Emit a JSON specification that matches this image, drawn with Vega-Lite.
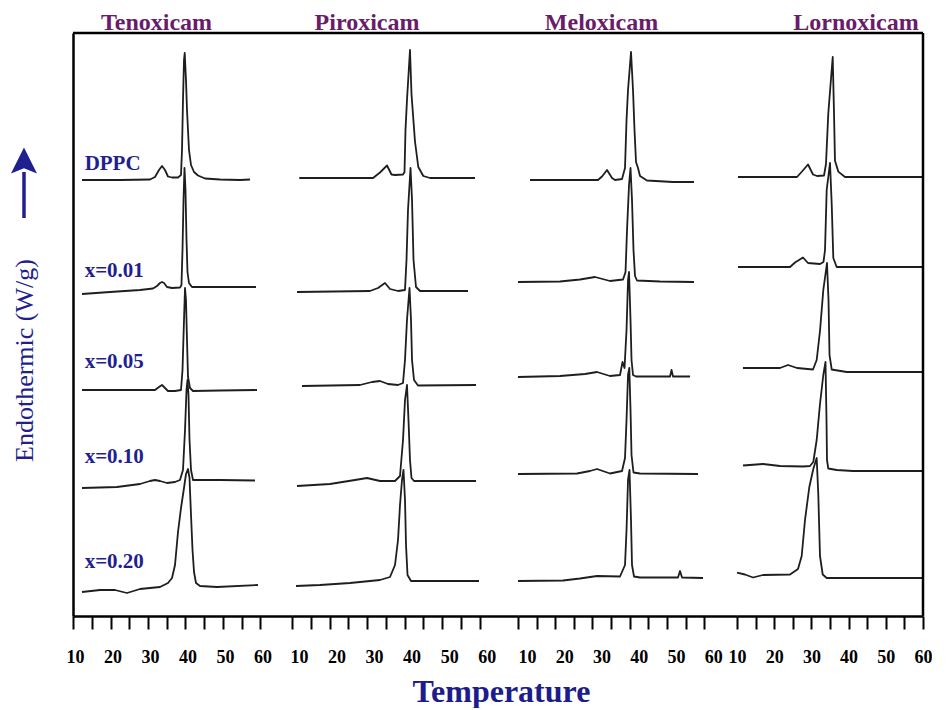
{
  "$schema": "https://vega.github.io/schema/vega-lite/v6.json",
  "background": "white",
  "padding": {"left": 10, "top": 10, "right": 0, "bottom": 0},
  "config": {
    "view": {"stroke": null},
    "font": "Liberation Serif",
    "axisX": {"grid": false, "domain": true, "domainColor": "black", "domainWidth": 2.5, "ticks": true, "tickSize": 13, "tickWidth": 2, "tickColor": "black", "labelFont": "Liberation Serif", "labelFontWeight": "bold", "labelFontSize": 18, "labelColor": "black", "labelPadding": 19, "labelFlush": false, "labelOverlap": false}
  },
  "title": {"text": "Temperature", "orient": "bottom", "anchor": "middle", "font": "Liberation Serif", "fontSize": 32, "fontWeight": "bold", "color": "#1c1c8c", "offset": 11, "dx": 30},
  "spacing": 0,
  "bounds": "flush",
  "datasets": {
    "labels": [
      {"sample": "DPPC", "t": 13.1, "hf": 44.6},
      {"sample": "x=0.01", "t": 13.1, "hf": 33.93},
      {"sample": "x=0.05", "t": 13.1, "hf": 24.8},
      {"sample": "x=0.10", "t": 13.1, "hf": 15.3},
      {"sample": "x=0.20", "t": 13.1, "hf": 4.8}
    ],
    "dsc": [
      {"drug":"Tenoxicam","sample":"DPPC","t":12.4,"hf":43.6},
      {"drug":"Tenoxicam","sample":"DPPC","t":22.53,"hf":43.6},
      {"drug":"Tenoxicam","sample":"DPPC","t":30.53,"hf":43.65},
      {"drug":"Tenoxicam","sample":"DPPC","t":31.87,"hf":43.9},
      {"drug":"Tenoxicam","sample":"DPPC","t":32.93,"hf":44.6},
      {"drug":"Tenoxicam","sample":"DPPC","t":33.73,"hf":45.0},
      {"drug":"Tenoxicam","sample":"DPPC","t":34.53,"hf":44.6},
      {"drug":"Tenoxicam","sample":"DPPC","t":35.33,"hf":43.95},
      {"drug":"Tenoxicam","sample":"DPPC","t":36.4,"hf":43.85},
      {"drug":"Tenoxicam","sample":"DPPC","t":38.0,"hf":43.85},
      {"drug":"Tenoxicam","sample":"DPPC","t":38.8,"hf":44.1},
      {"drug":"Tenoxicam","sample":"DPPC","t":39.07,"hf":46.6},
      {"drug":"Tenoxicam","sample":"DPPC","t":39.33,"hf":51.6},
      {"drug":"Tenoxicam","sample":"DPPC","t":39.6,"hf":55.6},
      {"drug":"Tenoxicam","sample":"DPPC","t":39.79,"hf":56.3},
      {"drug":"Tenoxicam","sample":"DPPC","t":40.13,"hf":53.6},
      {"drug":"Tenoxicam","sample":"DPPC","t":40.4,"hf":50.6},
      {"drug":"Tenoxicam","sample":"DPPC","t":40.93,"hf":46.6},
      {"drug":"Tenoxicam","sample":"DPPC","t":41.47,"hf":45.1},
      {"drug":"Tenoxicam","sample":"DPPC","t":42.27,"hf":44.4},
      {"drug":"Tenoxicam","sample":"DPPC","t":43.33,"hf":44.05},
      {"drug":"Tenoxicam","sample":"DPPC","t":45.2,"hf":43.75},
      {"drug":"Tenoxicam","sample":"DPPC","t":49.2,"hf":43.65},
      {"drug":"Tenoxicam","sample":"DPPC","t":54.53,"hf":43.6},
      {"drug":"Tenoxicam","sample":"DPPC","t":57.2,"hf":43.65},

      {"drug":"Tenoxicam","sample":"x=0.01","t":12.4,"hf":32.2},
      {"drug":"Tenoxicam","sample":"x=0.01","t":19.87,"hf":32.4},
      {"drug":"Tenoxicam","sample":"x=0.01","t":27.87,"hf":32.6},
      {"drug":"Tenoxicam","sample":"x=0.01","t":31.33,"hf":32.75},
      {"drug":"Tenoxicam","sample":"x=0.01","t":32.4,"hf":33.0},
      {"drug":"Tenoxicam","sample":"x=0.01","t":33.2,"hf":33.3},
      {"drug":"Tenoxicam","sample":"x=0.01","t":33.73,"hf":33.4},
      {"drug":"Tenoxicam","sample":"x=0.01","t":34.27,"hf":33.3},
      {"drug":"Tenoxicam","sample":"x=0.01","t":35.07,"hf":32.9},
      {"drug":"Tenoxicam","sample":"x=0.01","t":36.4,"hf":32.8},
      {"drug":"Tenoxicam","sample":"x=0.01","t":38.53,"hf":32.85},
      {"drug":"Tenoxicam","sample":"x=0.01","t":38.93,"hf":33.1},
      {"drug":"Tenoxicam","sample":"x=0.01","t":39.2,"hf":36.6},
      {"drug":"Tenoxicam","sample":"x=0.01","t":39.47,"hf":41.6},
      {"drug":"Tenoxicam","sample":"x=0.01","t":39.73,"hf":44.8},
      {"drug":"Tenoxicam","sample":"x=0.01","t":40.0,"hf":42.6},
      {"drug":"Tenoxicam","sample":"x=0.01","t":40.27,"hf":37.6},
      {"drug":"Tenoxicam","sample":"x=0.01","t":40.53,"hf":34.4},
      {"drug":"Tenoxicam","sample":"x=0.01","t":40.93,"hf":33.3},
      {"drug":"Tenoxicam","sample":"x=0.01","t":41.73,"hf":32.9},
      {"drug":"Tenoxicam","sample":"x=0.01","t":46.53,"hf":32.9},
      {"drug":"Tenoxicam","sample":"x=0.01","t":58.8,"hf":32.9},

      {"drug":"Tenoxicam","sample":"x=0.05","t":12.4,"hf":22.6},
      {"drug":"Tenoxicam","sample":"x=0.05","t":22.53,"hf":22.6},
      {"drug":"Tenoxicam","sample":"x=0.05","t":31.87,"hf":22.6},
      {"drug":"Tenoxicam","sample":"x=0.05","t":32.93,"hf":22.9},
      {"drug":"Tenoxicam","sample":"x=0.05","t":33.73,"hf":23.1},
      {"drug":"Tenoxicam","sample":"x=0.05","t":34.53,"hf":22.8},
      {"drug":"Tenoxicam","sample":"x=0.05","t":35.33,"hf":22.5},
      {"drug":"Tenoxicam","sample":"x=0.05","t":37.2,"hf":22.5},
      {"drug":"Tenoxicam","sample":"x=0.05","t":38.8,"hf":22.6},
      {"drug":"Tenoxicam","sample":"x=0.05","t":39.2,"hf":24.6},
      {"drug":"Tenoxicam","sample":"x=0.05","t":39.6,"hf":29.6},
      {"drug":"Tenoxicam","sample":"x=0.05","t":39.87,"hf":32.8},
      {"drug":"Tenoxicam","sample":"x=0.05","t":40.13,"hf":31.6},
      {"drug":"Tenoxicam","sample":"x=0.05","t":40.4,"hf":27.6},
      {"drug":"Tenoxicam","sample":"x=0.05","t":40.67,"hf":23.9},
      {"drug":"Tenoxicam","sample":"x=0.05","t":41.2,"hf":22.8},
      {"drug":"Tenoxicam","sample":"x=0.05","t":42.0,"hf":22.5},
      {"drug":"Tenoxicam","sample":"x=0.05","t":49.2,"hf":22.55},
      {"drug":"Tenoxicam","sample":"x=0.05","t":59.07,"hf":22.6},

      {"drug":"Tenoxicam","sample":"x=0.10","t":12.4,"hf":12.8},
      {"drug":"Tenoxicam","sample":"x=0.10","t":21.73,"hf":12.9},
      {"drug":"Tenoxicam","sample":"x=0.10","t":27.87,"hf":13.2},
      {"drug":"Tenoxicam","sample":"x=0.10","t":30.53,"hf":13.5},
      {"drug":"Tenoxicam","sample":"x=0.10","t":31.87,"hf":13.6},
      {"drug":"Tenoxicam","sample":"x=0.10","t":33.2,"hf":13.5},
      {"drug":"Tenoxicam","sample":"x=0.10","t":35.07,"hf":13.3},
      {"drug":"Tenoxicam","sample":"x=0.10","t":37.2,"hf":13.4},
      {"drug":"Tenoxicam","sample":"x=0.10","t":38.53,"hf":13.6},
      {"drug":"Tenoxicam","sample":"x=0.10","t":39.33,"hf":14.6},
      {"drug":"Tenoxicam","sample":"x=0.10","t":39.87,"hf":18.6},
      {"drug":"Tenoxicam","sample":"x=0.10","t":40.27,"hf":22.6},
      {"drug":"Tenoxicam","sample":"x=0.10","t":40.53,"hf":23.6},
      {"drug":"Tenoxicam","sample":"x=0.10","t":40.8,"hf":22.1},
      {"drug":"Tenoxicam","sample":"x=0.10","t":41.07,"hf":17.6},
      {"drug":"Tenoxicam","sample":"x=0.10","t":41.47,"hf":14.6},
      {"drug":"Tenoxicam","sample":"x=0.10","t":42.0,"hf":13.6},
      {"drug":"Tenoxicam","sample":"x=0.10","t":49.2,"hf":13.6},
      {"drug":"Tenoxicam","sample":"x=0.10","t":58.53,"hf":13.55},

      {"drug":"Tenoxicam","sample":"x=0.20","t":12.4,"hf":2.4},
      {"drug":"Tenoxicam","sample":"x=0.20","t":17.2,"hf":2.6},
      {"drug":"Tenoxicam","sample":"x=0.20","t":21.2,"hf":2.6},
      {"drug":"Tenoxicam","sample":"x=0.20","t":24.4,"hf":2.3},
      {"drug":"Tenoxicam","sample":"x=0.20","t":27.87,"hf":2.7},
      {"drug":"Tenoxicam","sample":"x=0.20","t":33.2,"hf":2.9},
      {"drug":"Tenoxicam","sample":"x=0.20","t":35.33,"hf":3.3},
      {"drug":"Tenoxicam","sample":"x=0.20","t":36.4,"hf":3.8},
      {"drug":"Tenoxicam","sample":"x=0.20","t":37.2,"hf":5.1},
      {"drug":"Tenoxicam","sample":"x=0.20","t":38.0,"hf":8.4},
      {"drug":"Tenoxicam","sample":"x=0.20","t":38.8,"hf":10.8},
      {"drug":"Tenoxicam","sample":"x=0.20","t":39.6,"hf":12.8},
      {"drug":"Tenoxicam","sample":"x=0.20","t":40.13,"hf":14.2},
      {"drug":"Tenoxicam","sample":"x=0.20","t":40.67,"hf":14.7},
      {"drug":"Tenoxicam","sample":"x=0.20","t":41.07,"hf":13.8},
      {"drug":"Tenoxicam","sample":"x=0.20","t":41.47,"hf":10.1},
      {"drug":"Tenoxicam","sample":"x=0.20","t":41.87,"hf":6.6},
      {"drug":"Tenoxicam","sample":"x=0.20","t":42.27,"hf":4.4},
      {"drug":"Tenoxicam","sample":"x=0.20","t":42.8,"hf":3.3},
      {"drug":"Tenoxicam","sample":"x=0.20","t":43.87,"hf":3.0},
      {"drug":"Tenoxicam","sample":"x=0.20","t":48.4,"hf":2.9},
      {"drug":"Tenoxicam","sample":"x=0.20","t":59.33,"hf":3.1},

      {"drug":"Piroxicam","sample":"DPPC","t":11.94,"hf":43.8},
      {"drug":"Piroxicam","sample":"DPPC","t":31.58,"hf":43.8},
      {"drug":"Piroxicam","sample":"DPPC","t":33.44,"hf":44.35},
      {"drug":"Piroxicam","sample":"DPPC","t":35.31,"hf":45.05},
      {"drug":"Piroxicam","sample":"DPPC","t":36.5,"hf":44.15},
      {"drug":"Piroxicam","sample":"DPPC","t":37.44,"hf":44.1},
      {"drug":"Piroxicam","sample":"DPPC","t":39.57,"hf":44.15},
      {"drug":"Piroxicam","sample":"DPPC","t":39.97,"hf":44.4},
      {"drug":"Piroxicam","sample":"DPPC","t":40.23,"hf":48.6},
      {"drug":"Piroxicam","sample":"DPPC","t":40.63,"hf":51.6},
      {"drug":"Piroxicam","sample":"DPPC","t":41.43,"hf":56.6},
      {"drug":"Piroxicam","sample":"DPPC","t":41.83,"hf":52.2},
      {"drug":"Piroxicam","sample":"DPPC","t":42.76,"hf":47.45},
      {"drug":"Piroxicam","sample":"DPPC","t":43.64,"hf":44.9},
      {"drug":"Piroxicam","sample":"DPPC","t":44.98,"hf":44.0},
      {"drug":"Piroxicam","sample":"DPPC","t":46.76,"hf":43.8},
      {"drug":"Piroxicam","sample":"DPPC","t":58.75,"hf":43.8},

      {"drug":"Piroxicam","sample":"x=0.01","t":11.33,"hf":32.4},
      {"drug":"Piroxicam","sample":"x=0.01","t":30.78,"hf":32.5},
      {"drug":"Piroxicam","sample":"x=0.01","t":32.91,"hf":32.8},
      {"drug":"Piroxicam","sample":"x=0.01","t":34.77,"hf":33.3},
      {"drug":"Piroxicam","sample":"x=0.01","t":36.11,"hf":32.7},
      {"drug":"Piroxicam","sample":"x=0.01","t":38.24,"hf":32.5},
      {"drug":"Piroxicam","sample":"x=0.01","t":40.1,"hf":32.6},
      {"drug":"Piroxicam","sample":"x=0.01","t":40.5,"hf":35.6},
      {"drug":"Piroxicam","sample":"x=0.01","t":40.9,"hf":40.6},
      {"drug":"Piroxicam","sample":"x=0.01","t":41.57,"hf":44.8},
      {"drug":"Piroxicam","sample":"x=0.01","t":41.97,"hf":41.6},
      {"drug":"Piroxicam","sample":"x=0.01","t":42.37,"hf":35.6},
      {"drug":"Piroxicam","sample":"x=0.01","t":43.03,"hf":32.9},
      {"drug":"Piroxicam","sample":"x=0.01","t":44.1,"hf":32.5},
      {"drug":"Piroxicam","sample":"x=0.01","t":56.88,"hf":32.5},

      {"drug":"Piroxicam","sample":"x=0.05","t":12.66,"hf":23.0},
      {"drug":"Piroxicam","sample":"x=0.05","t":28.11,"hf":23.1},
      {"drug":"Piroxicam","sample":"x=0.05","t":31.31,"hf":23.4},
      {"drug":"Piroxicam","sample":"x=0.05","t":33.44,"hf":23.5},
      {"drug":"Piroxicam","sample":"x=0.05","t":35.57,"hf":23.2},
      {"drug":"Piroxicam","sample":"x=0.05","t":38.24,"hf":23.1},
      {"drug":"Piroxicam","sample":"x=0.05","t":39.57,"hf":23.3},
      {"drug":"Piroxicam","sample":"x=0.05","t":40.1,"hf":25.6},
      {"drug":"Piroxicam","sample":"x=0.05","t":40.63,"hf":29.6},
      {"drug":"Piroxicam","sample":"x=0.05","t":41.3,"hf":32.8},
      {"drug":"Piroxicam","sample":"x=0.05","t":41.7,"hf":29.6},
      {"drug":"Piroxicam","sample":"x=0.05","t":41.97,"hf":25.6},
      {"drug":"Piroxicam","sample":"x=0.05","t":42.5,"hf":23.6},
      {"drug":"Piroxicam","sample":"x=0.05","t":43.56,"hf":23.05},
      {"drug":"Piroxicam","sample":"x=0.05","t":59.01,"hf":23.1},

      {"drug":"Piroxicam","sample":"x=0.10","t":11.33,"hf":13.0},
      {"drug":"Piroxicam","sample":"x=0.10","t":20.12,"hf":13.2},
      {"drug":"Piroxicam","sample":"x=0.10","t":26.78,"hf":13.6},
      {"drug":"Piroxicam","sample":"x=0.10","t":29.98,"hf":13.8},
      {"drug":"Piroxicam","sample":"x=0.10","t":33.44,"hf":13.5},
      {"drug":"Piroxicam","sample":"x=0.10","t":37.44,"hf":13.5},
      {"drug":"Piroxicam","sample":"x=0.10","t":38.77,"hf":14.0},
      {"drug":"Piroxicam","sample":"x=0.10","t":39.57,"hf":17.6},
      {"drug":"Piroxicam","sample":"x=0.10","t":40.1,"hf":21.6},
      {"drug":"Piroxicam","sample":"x=0.10","t":40.63,"hf":23.1},
      {"drug":"Piroxicam","sample":"x=0.10","t":41.03,"hf":19.6},
      {"drug":"Piroxicam","sample":"x=0.10","t":41.43,"hf":15.6},
      {"drug":"Piroxicam","sample":"x=0.10","t":41.83,"hf":13.8},
      {"drug":"Piroxicam","sample":"x=0.10","t":42.5,"hf":13.5},
      {"drug":"Piroxicam","sample":"x=0.10","t":59.01,"hf":13.5},

      {"drug":"Piroxicam","sample":"x=0.20","t":11.07,"hf":3.0},
      {"drug":"Piroxicam","sample":"x=0.20","t":17.46,"hf":3.1},
      {"drug":"Piroxicam","sample":"x=0.20","t":25.45,"hf":3.3},
      {"drug":"Piroxicam","sample":"x=0.20","t":33.44,"hf":3.6},
      {"drug":"Piroxicam","sample":"x=0.20","t":36.11,"hf":3.9},
      {"drug":"Piroxicam","sample":"x=0.20","t":37.44,"hf":5.1},
      {"drug":"Piroxicam","sample":"x=0.20","t":38.24,"hf":7.6},
      {"drug":"Piroxicam","sample":"x=0.20","t":38.77,"hf":11.1},
      {"drug":"Piroxicam","sample":"x=0.20","t":39.3,"hf":13.6},
      {"drug":"Piroxicam","sample":"x=0.20","t":39.7,"hf":14.6},
      {"drug":"Piroxicam","sample":"x=0.20","t":40.1,"hf":11.6},
      {"drug":"Piroxicam","sample":"x=0.20","t":40.37,"hf":7.1},
      {"drug":"Piroxicam","sample":"x=0.20","t":40.77,"hf":4.1},
      {"drug":"Piroxicam","sample":"x=0.20","t":41.7,"hf":3.5},
      {"drug":"Piroxicam","sample":"x=0.20","t":59.81,"hf":3.5},

      {"drug":"Meloxicam","sample":"DPPC","t":13.22,"hf":43.6},
      {"drug":"Meloxicam","sample":"DPPC","t":31.48,"hf":43.6},
      {"drug":"Meloxicam","sample":"DPPC","t":32.56,"hf":43.95},
      {"drug":"Meloxicam","sample":"DPPC","t":33.9,"hf":44.6},
      {"drug":"Meloxicam","sample":"DPPC","t":35.24,"hf":43.8},
      {"drug":"Meloxicam","sample":"DPPC","t":36.05,"hf":43.6},
      {"drug":"Meloxicam","sample":"DPPC","t":37.93,"hf":43.7},
      {"drug":"Meloxicam","sample":"DPPC","t":38.73,"hf":44.8},
      {"drug":"Meloxicam","sample":"DPPC","t":39.14,"hf":49.6},
      {"drug":"Meloxicam","sample":"DPPC","t":39.54,"hf":52.6},
      {"drug":"Meloxicam","sample":"DPPC","t":40.34,"hf":56.4},
      {"drug":"Meloxicam","sample":"DPPC","t":40.88,"hf":52.6},
      {"drug":"Meloxicam","sample":"DPPC","t":41.28,"hf":48.6},
      {"drug":"Meloxicam","sample":"DPPC","t":41.69,"hf":45.4},
      {"drug":"Meloxicam","sample":"DPPC","t":42.22,"hf":44.8},
      {"drug":"Meloxicam","sample":"DPPC","t":42.76,"hf":44.0},
      {"drug":"Meloxicam","sample":"DPPC","t":44.64,"hf":43.55},
      {"drug":"Meloxicam","sample":"DPPC","t":51.62,"hf":43.4},
      {"drug":"Meloxicam","sample":"DPPC","t":57.26,"hf":43.4},

      {"drug":"Meloxicam","sample":"x=0.01","t":10.0,"hf":33.4},
      {"drug":"Meloxicam","sample":"x=0.01","t":21.28,"hf":33.45},
      {"drug":"Meloxicam","sample":"x=0.01","t":26.65,"hf":33.65},
      {"drug":"Meloxicam","sample":"x=0.01","t":30.68,"hf":33.9},
      {"drug":"Meloxicam","sample":"x=0.01","t":34.7,"hf":33.5},
      {"drug":"Meloxicam","sample":"x=0.01","t":38.2,"hf":33.65},
      {"drug":"Meloxicam","sample":"x=0.01","t":38.87,"hf":34.4},
      {"drug":"Meloxicam","sample":"x=0.01","t":39.27,"hf":38.6},
      {"drug":"Meloxicam","sample":"x=0.01","t":39.81,"hf":43.1},
      {"drug":"Meloxicam","sample":"x=0.01","t":40.21,"hf":44.8},
      {"drug":"Meloxicam","sample":"x=0.01","t":40.61,"hf":41.6},
      {"drug":"Meloxicam","sample":"x=0.01","t":41.01,"hf":36.6},
      {"drug":"Meloxicam","sample":"x=0.01","t":41.42,"hf":34.0},
      {"drug":"Meloxicam","sample":"x=0.01","t":41.95,"hf":33.55},
      {"drug":"Meloxicam","sample":"x=0.01","t":48.13,"hf":33.45},
      {"drug":"Meloxicam","sample":"x=0.01","t":57.26,"hf":33.4},

      {"drug":"Meloxicam","sample":"x=0.05","t":10.0,"hf":23.9},
      {"drug":"Meloxicam","sample":"x=0.05","t":21.28,"hf":24.0},
      {"drug":"Meloxicam","sample":"x=0.05","t":27.99,"hf":24.2},
      {"drug":"Meloxicam","sample":"x=0.05","t":31.21,"hf":24.4},
      {"drug":"Meloxicam","sample":"x=0.05","t":34.7,"hf":24.0},
      {"drug":"Meloxicam","sample":"x=0.05","t":37.39,"hf":24.1},
      {"drug":"Meloxicam","sample":"x=0.05","t":38.06,"hf":25.4},
      {"drug":"Meloxicam","sample":"x=0.05","t":38.6,"hf":24.8},
      {"drug":"Meloxicam","sample":"x=0.05","t":39.14,"hf":28.6},
      {"drug":"Meloxicam","sample":"x=0.05","t":39.54,"hf":33.6},
      {"drug":"Meloxicam","sample":"x=0.05","t":39.81,"hf":34.4},
      {"drug":"Meloxicam","sample":"x=0.05","t":40.21,"hf":29.6},
      {"drug":"Meloxicam","sample":"x=0.05","t":40.48,"hf":25.6},
      {"drug":"Meloxicam","sample":"x=0.05","t":40.88,"hf":24.1},
      {"drug":"Meloxicam","sample":"x=0.05","t":41.69,"hf":23.95},
      {"drug":"Meloxicam","sample":"x=0.05","t":50.82,"hf":23.95},
      {"drug":"Meloxicam","sample":"x=0.05","t":51.22,"hf":24.6},
      {"drug":"Meloxicam","sample":"x=0.05","t":51.62,"hf":23.95},
      {"drug":"Meloxicam","sample":"x=0.05","t":56.19,"hf":23.95},

      {"drug":"Meloxicam","sample":"x=0.10","t":10.0,"hf":14.2},
      {"drug":"Meloxicam","sample":"x=0.10","t":25.84,"hf":14.25},
      {"drug":"Meloxicam","sample":"x=0.10","t":29.33,"hf":14.5},
      {"drug":"Meloxicam","sample":"x=0.10","t":31.21,"hf":14.7},
      {"drug":"Meloxicam","sample":"x=0.10","t":34.7,"hf":14.25},
      {"drug":"Meloxicam","sample":"x=0.10","t":37.93,"hf":14.5},
      {"drug":"Meloxicam","sample":"x=0.10","t":38.73,"hf":15.8},
      {"drug":"Meloxicam","sample":"x=0.10","t":39.14,"hf":19.6},
      {"drug":"Meloxicam","sample":"x=0.10","t":39.54,"hf":24.1},
      {"drug":"Meloxicam","sample":"x=0.10","t":39.89,"hf":24.8},
      {"drug":"Meloxicam","sample":"x=0.10","t":40.21,"hf":20.6},
      {"drug":"Meloxicam","sample":"x=0.10","t":40.48,"hf":16.1},
      {"drug":"Meloxicam","sample":"x=0.10","t":41.01,"hf":14.35},
      {"drug":"Meloxicam","sample":"x=0.10","t":42.76,"hf":14.25},
      {"drug":"Meloxicam","sample":"x=0.10","t":58.33,"hf":14.2},

      {"drug":"Meloxicam","sample":"x=0.20","t":10.0,"hf":3.5},
      {"drug":"Meloxicam","sample":"x=0.20","t":22.08,"hf":3.55},
      {"drug":"Meloxicam","sample":"x=0.20","t":26.65,"hf":3.75},
      {"drug":"Meloxicam","sample":"x=0.20","t":31.21,"hf":4.0},
      {"drug":"Meloxicam","sample":"x=0.20","t":37.39,"hf":3.95},
      {"drug":"Meloxicam","sample":"x=0.20","t":38.73,"hf":5.1},
      {"drug":"Meloxicam","sample":"x=0.20","t":39.14,"hf":8.6},
      {"drug":"Meloxicam","sample":"x=0.20","t":39.54,"hf":13.6},
      {"drug":"Meloxicam","sample":"x=0.20","t":39.94,"hf":14.6},
      {"drug":"Meloxicam","sample":"x=0.20","t":40.34,"hf":9.6},
      {"drug":"Meloxicam","sample":"x=0.20","t":40.61,"hf":5.1},
      {"drug":"Meloxicam","sample":"x=0.20","t":41.15,"hf":3.95},
      {"drug":"Meloxicam","sample":"x=0.20","t":42.76,"hf":3.85},
      {"drug":"Meloxicam","sample":"x=0.20","t":52.96,"hf":3.85},
      {"drug":"Meloxicam","sample":"x=0.20","t":53.5,"hf":4.5},
      {"drug":"Meloxicam","sample":"x=0.20","t":54.04,"hf":3.85},
      {"drug":"Meloxicam","sample":"x=0.20","t":59.68,"hf":3.8},

      {"drug":"Lornoxicam","sample":"DPPC","t":10.27,"hf":43.9},
      {"drug":"Lornoxicam","sample":"DPPC","t":26.13,"hf":43.9},
      {"drug":"Lornoxicam","sample":"DPPC","t":27.47,"hf":44.45},
      {"drug":"Lornoxicam","sample":"DPPC","t":29.09,"hf":45.15},
      {"drug":"Lornoxicam","sample":"DPPC","t":30.43,"hf":44.15},
      {"drug":"Lornoxicam","sample":"DPPC","t":31.51,"hf":44.0},
      {"drug":"Lornoxicam","sample":"DPPC","t":33.39,"hf":44.05},
      {"drug":"Lornoxicam","sample":"DPPC","t":33.92,"hf":45.2},
      {"drug":"Lornoxicam","sample":"DPPC","t":34.54,"hf":50.25},
      {"drug":"Lornoxicam","sample":"DPPC","t":35.73,"hf":55.9},
      {"drug":"Lornoxicam","sample":"DPPC","t":36.08,"hf":50.25},
      {"drug":"Lornoxicam","sample":"DPPC","t":36.34,"hf":45.53},
      {"drug":"Lornoxicam","sample":"DPPC","t":37.23,"hf":44.44},
      {"drug":"Lornoxicam","sample":"DPPC","t":39.03,"hf":43.9},
      {"drug":"Lornoxicam","sample":"DPPC","t":60.0,"hf":43.9},

      {"drug":"Lornoxicam","sample":"x=0.01","t":10.27,"hf":34.9},
      {"drug":"Lornoxicam","sample":"x=0.01","t":24.25,"hf":34.9},
      {"drug":"Lornoxicam","sample":"x=0.01","t":25.59,"hf":35.35},
      {"drug":"Lornoxicam","sample":"x=0.01","t":27.74,"hf":35.85},
      {"drug":"Lornoxicam","sample":"x=0.01","t":29.09,"hf":35.3},
      {"drug":"Lornoxicam","sample":"x=0.01","t":32.31,"hf":35.2},
      {"drug":"Lornoxicam","sample":"x=0.01","t":33.25,"hf":35.4},
      {"drug":"Lornoxicam","sample":"x=0.01","t":33.66,"hf":36.6},
      {"drug":"Lornoxicam","sample":"x=0.01","t":34.11,"hf":42.6},
      {"drug":"Lornoxicam","sample":"x=0.01","t":35.0,"hf":45.3},
      {"drug":"Lornoxicam","sample":"x=0.01","t":35.46,"hf":41.2},
      {"drug":"Lornoxicam","sample":"x=0.01","t":35.89,"hf":35.8},
      {"drug":"Lornoxicam","sample":"x=0.01","t":36.8,"hf":34.9},
      {"drug":"Lornoxicam","sample":"x=0.01","t":60.0,"hf":34.9},

      {"drug":"Lornoxicam","sample":"x=0.05","t":11.61,"hf":24.8},
      {"drug":"Lornoxicam","sample":"x=0.05","t":21.56,"hf":24.8},
      {"drug":"Lornoxicam","sample":"x=0.05","t":23.71,"hf":25.1},
      {"drug":"Lornoxicam","sample":"x=0.05","t":26.13,"hf":24.8},
      {"drug":"Lornoxicam","sample":"x=0.05","t":30.43,"hf":24.65},
      {"drug":"Lornoxicam","sample":"x=0.05","t":31.42,"hf":25.6},
      {"drug":"Lornoxicam","sample":"x=0.05","t":32.31,"hf":28.5},
      {"drug":"Lornoxicam","sample":"x=0.05","t":33.2,"hf":32.6},
      {"drug":"Lornoxicam","sample":"x=0.05","t":34.19,"hf":35.3},
      {"drug":"Lornoxicam","sample":"x=0.05","t":34.6,"hf":31.6},
      {"drug":"Lornoxicam","sample":"x=0.05","t":34.87,"hf":26.1},
      {"drug":"Lornoxicam","sample":"x=0.05","t":35.46,"hf":24.65},
      {"drug":"Lornoxicam","sample":"x=0.05","t":39.49,"hf":24.4},
      {"drug":"Lornoxicam","sample":"x=0.05","t":60.0,"hf":24.4},

      {"drug":"Lornoxicam","sample":"x=0.10","t":11.61,"hf":15.05},
      {"drug":"Lornoxicam","sample":"x=0.10","t":16.99,"hf":15.2},
      {"drug":"Lornoxicam","sample":"x=0.10","t":21.56,"hf":15.0},
      {"drug":"Lornoxicam","sample":"x=0.10","t":27.74,"hf":14.95},
      {"drug":"Lornoxicam","sample":"x=0.10","t":29.62,"hf":15.0},
      {"drug":"Lornoxicam","sample":"x=0.10","t":30.51,"hf":15.4},
      {"drug":"Lornoxicam","sample":"x=0.10","t":31.42,"hf":17.6},
      {"drug":"Lornoxicam","sample":"x=0.10","t":32.31,"hf":21.2},
      {"drug":"Lornoxicam","sample":"x=0.10","t":33.2,"hf":24.1},
      {"drug":"Lornoxicam","sample":"x=0.10","t":33.79,"hf":25.4},
      {"drug":"Lornoxicam","sample":"x=0.10","t":34.06,"hf":19.6},
      {"drug":"Lornoxicam","sample":"x=0.10","t":34.19,"hf":15.6},
      {"drug":"Lornoxicam","sample":"x=0.10","t":34.54,"hf":14.75},
      {"drug":"Lornoxicam","sample":"x=0.10","t":36.8,"hf":14.6},
      {"drug":"Lornoxicam","sample":"x=0.10","t":41.18,"hf":14.5},
      {"drug":"Lornoxicam","sample":"x=0.10","t":60.0,"hf":14.5},

      {"drug":"Lornoxicam","sample":"x=0.20","t":10.0,"hf":4.33},
      {"drug":"Lornoxicam","sample":"x=0.20","t":12.15,"hf":4.15},
      {"drug":"Lornoxicam","sample":"x=0.20","t":14.3,"hf":3.85},
      {"drug":"Lornoxicam","sample":"x=0.20","t":16.99,"hf":4.1},
      {"drug":"Lornoxicam","sample":"x=0.20","t":24.25,"hf":4.15},
      {"drug":"Lornoxicam","sample":"x=0.20","t":26.4,"hf":4.7},
      {"drug":"Lornoxicam","sample":"x=0.20","t":27.39,"hf":6.0},
      {"drug":"Lornoxicam","sample":"x=0.20","t":28.28,"hf":9.6},
      {"drug":"Lornoxicam","sample":"x=0.20","t":29.44,"hf":12.9},
      {"drug":"Lornoxicam","sample":"x=0.20","t":30.51,"hf":14.7},
      {"drug":"Lornoxicam","sample":"x=0.20","t":31.42,"hf":15.8},
      {"drug":"Lornoxicam","sample":"x=0.20","t":31.85,"hf":12.2},
      {"drug":"Lornoxicam","sample":"x=0.20","t":32.31,"hf":6.0},
      {"drug":"Lornoxicam","sample":"x=0.20","t":33.04,"hf":4.15},
      {"drug":"Lornoxicam","sample":"x=0.20","t":34.11,"hf":3.8},
      {"drug":"Lornoxicam","sample":"x=0.20","t":60.0,"hf":3.8}
    ]
  },
  "hconcat": [
    {
      "width": 219, "height": 583,
      "title": {"text": "Tenoxicam", "frame": "group", "anchor": "middle", "dx": -26, "baseline": "alphabetic", "offset": -22, "font": "Liberation Serif", "fontSize": 24, "fontWeight": "bold", "color": "#6a1b6a"},
      "data": {"name": "dsc"},
      "transform": [{"filter": "datum.drug === 'Tenoxicam'"}],
      "layer": [
        {
          "mark": {"type": "line", "color": "#1e1e1e", "strokeWidth": 1.8, "strokeJoin": "round"},
          "encoding": {
            "x": {"field": "t", "type": "quantitative", "title": null, "scale": {"domain": [10, 68.4], "nice": false, "zero": false},
                  "axis": {"title": null, "values": [10, 15, 20, 25, 30, 35, 40, 45, 50, 55, 60], "labelExpr": "datum.value % 10 === 0 ? datum.label : ''", "labelOffset": 2}},
            "y": {"field": "hf", "type": "quantitative", "title": "Endothermic (W/g)", "scale": {"domain": [0, 58.3], "nice": false, "zero": false},
                  "axis": {"title": "Endothermic (W/g)", "titleFont": "Liberation Serif", "titleFontWeight": "normal", "titleFontSize": 26, "titleColor": "#1f1f8f", "titlePadding": 36, "titleY": 327, "labels": false, "ticks": false, "grid": false, "domain": true, "domainColor": "black", "domainWidth": 2.5}},
            "detail": {"field": "sample"}
          }
        },
        {
          "data": {"values": [{}]},
          "mark": {"type": "rule", "color": "black", "strokeWidth": 2.5},
          "encoding": {"x": {"datum": 10, "axis": {"title": null, "values": [10, 15, 20, 25, 30, 35, 40, 45, 50, 55, 60], "labelExpr": "datum.value % 10 === 0 ? datum.label : ''", "labelOffset": 2}}, "x2": {"datum": 68.4}, "y": {"datum": 58.3}}
        },
        {
          "data": {"values": [{}]},
          "mark": {"type": "rule", "color": "#1f1f8f", "strokeWidth": 3.5},
          "encoding": {"x": {"datum": -3.07, "axis": {"title": null, "values": [10, 15, 20, 25, 30, 35, 40, 45, 50, 55, 60], "labelExpr": "datum.value % 10 === 0 ? datum.label : ''", "labelOffset": 2}}, "y": {"datum": 39.8}, "y2": {"datum": 44.4}}
        },
        {
          "data": {"values": [{}]},
          "mark": {"type": "point", "shape": "M-1,1L0,-1L1,1L0,0.6Z", "size": 676, "filled": true, "color": "#1f1f8f", "opacity": 1},
          "encoding": {"x": {"datum": -3.07, "axis": {"title": null, "values": [10, 15, 20, 25, 30, 35, 40, 45, 50, 55, 60], "labelExpr": "datum.value % 10 === 0 ? datum.label : ''", "labelOffset": 2}}, "y": {"datum": 45.55}}
        },
        {
          "data": {"name": "labels"},
          "mark": {"type": "text", "align": "left", "baseline": "alphabetic", "font": "Liberation Serif", "fontWeight": "bold", "fontSize": 21, "color": "#1f1f8f"},
          "encoding": {"x": {"field": "t", "type": "quantitative", "axis": {"title": null, "values": [10, 15, 20, 25, 30, 35, 40, 45, 50, 55, 60], "labelExpr": "datum.value % 10 === 0 ? datum.label : ''", "labelOffset": 2}}, "y": {"field": "hf", "type": "quantitative"}, "text": {"field": "sample"}}
        }
      ]
    },
    {
      "width": 226, "height": 583,
      "title": {"text": "Piroxicam", "frame": "group", "anchor": "middle", "dx": -38, "baseline": "alphabetic", "offset": -22, "font": "Liberation Serif", "fontSize": 24, "fontWeight": "bold", "color": "#6a1b6a"},
      "data": {"name": "dsc"},
      "transform": [{"filter": "datum.drug === 'Piroxicam'"}],
      "layer": [
        {
          "mark": {"type": "line", "color": "#1e1e1e", "strokeWidth": 1.8, "strokeJoin": "round"},
          "encoding": {
            "x": {"field": "t", "type": "quantitative", "title": null, "scale": {"domain": [10, 70.2], "nice": false, "zero": false},
                  "axis": {"title": null, "values": [10, 15, 20, 25, 30, 35, 40, 45, 50, 55, 60], "labelExpr": "datum.value % 10 === 0 ? datum.label : ''", "labelOffset": 7}},
            "y": {"field": "hf", "type": "quantitative", "scale": {"domain": [0, 58.3], "nice": false, "zero": false}, "axis": null},
            "detail": {"field": "sample"}
          }
        },
        {
          "data": {"values": [{}]},
          "mark": {"type": "rule", "color": "black", "strokeWidth": 2.5},
          "encoding": {"x": {"datum": 10, "axis": {"title": null, "values": [10, 15, 20, 25, 30, 35, 40, 45, 50, 55, 60], "labelExpr": "datum.value % 10 === 0 ? datum.label : ''", "labelOffset": 7}}, "x2": {"datum": 70.2}, "y": {"datum": 58.3, "axis": null}}
        }
      ]
    },
    {
      "width": 219, "height": 583,
      "title": {"text": "Meloxicam", "frame": "group", "anchor": "middle", "dx": -26, "baseline": "alphabetic", "offset": -22, "font": "Liberation Serif", "fontSize": 24, "fontWeight": "bold", "color": "#6a1b6a"},
      "data": {"name": "dsc"},
      "transform": [{"filter": "datum.drug === 'Meloxicam'"}],
      "layer": [
        {
          "mark": {"type": "line", "color": "#1e1e1e", "strokeWidth": 1.8, "strokeJoin": "round"},
          "encoding": {
            "x": {"field": "t", "type": "quantitative", "title": null, "scale": {"domain": [10, 68.8], "nice": false, "zero": false},
                  "axis": {"title": null, "values": [10, 15, 20, 25, 30, 35, 40, 45, 50, 55, 60], "labelExpr": "datum.value % 10 === 0 ? datum.label : ''", "labelOffset": 9}},
            "y": {"field": "hf", "type": "quantitative", "scale": {"domain": [0, 58.3], "nice": false, "zero": false}, "axis": null},
            "detail": {"field": "sample"}
          }
        },
        {
          "data": {"values": [{}]},
          "mark": {"type": "rule", "color": "black", "strokeWidth": 2.5},
          "encoding": {"x": {"datum": 10, "axis": {"title": null, "values": [10, 15, 20, 25, 30, 35, 40, 45, 50, 55, 60], "labelExpr": "datum.value % 10 === 0 ? datum.label : ''", "labelOffset": 9}}, "x2": {"datum": 68.8}, "y": {"datum": 58.3, "axis": null}}
        }
      ]
    },
    {
      "width": 186, "height": 583,
      "title": {"text": "Lornoxicam", "frame": "group", "anchor": "middle", "dx": 26, "baseline": "alphabetic", "offset": -22, "font": "Liberation Serif", "fontSize": 24, "fontWeight": "bold", "color": "#6a1b6a"},
      "data": {"name": "dsc"},
      "transform": [{"filter": "datum.drug === 'Lornoxicam'"}],
      "layer": [
        {
          "mark": {"type": "line", "color": "#1e1e1e", "strokeWidth": 1.8, "strokeJoin": "round"},
          "encoding": {
            "x": {"field": "t", "type": "quantitative", "title": null, "scale": {"domain": [10, 60], "nice": false, "zero": false},
                  "axis": {"title": null, "values": [10, 15, 20, 25, 30, 35, 40, 45, 50, 55, 60], "labelExpr": "datum.value % 10 === 0 ? datum.label : ''"}},
            "y": {"field": "hf", "type": "quantitative", "scale": {"domain": [0, 58.3], "nice": false, "zero": false}, "axis": null},
            "detail": {"field": "sample"}
          }
        },
        {
          "data": {"values": [{}]},
          "mark": {"type": "rule", "color": "black", "strokeWidth": 2.5},
          "encoding": {"x": {"datum": 10, "axis": {"title": null, "values": [10, 15, 20, 25, 30, 35, 40, 45, 50, 55, 60], "labelExpr": "datum.value % 10 === 0 ? datum.label : ''"}}, "x2": {"datum": 60}, "y": {"datum": 58.3, "axis": null}}
        },
        {
          "data": {"values": [{}]},
          "mark": {"type": "rule", "color": "black", "strokeWidth": 2.5},
          "encoding": {"x": {"datum": 60, "axis": {"title": null, "values": [10, 15, 20, 25, 30, 35, 40, 45, 50, 55, 60], "labelExpr": "datum.value % 10 === 0 ? datum.label : ''"}}, "y": {"datum": 0, "axis": null}, "y2": {"datum": 58.3}}
        }
      ]
    }
  ]
}
